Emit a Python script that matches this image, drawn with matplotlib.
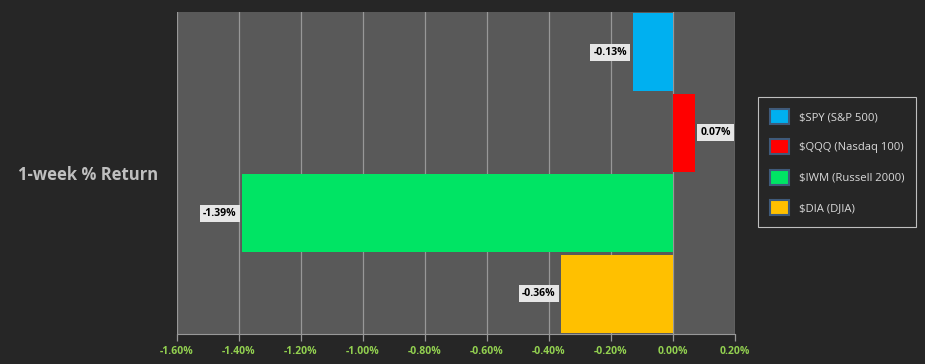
import matplotlib
matplotlib.use("Agg")
import matplotlib.pyplot as plt
from matplotlib.patches import Patch

categories = ["$SPY (S&P 500)", "$QQQ (Nasdaq 100)", "$IWM (Russell 2000)", "$DIA (DJIA)"]
returns = [-0.13, 0.07, -1.39, -0.36]
colors = ["#00B0F0", "#FF0000", "#00E464", "#FFC000"]
xticks = [-1.6, -1.4, -1.2, -1.0, -0.8, -0.6, -0.4, -0.2, 0.0, 0.2]
title = "1-week % Return"

plt.rcParams['font.family'] = ['Open Sans', 'DejaVu Sans']

fig = plt.figure(figsize=(9.25, 3.64), dpi=100, facecolor="#262626")
ax = fig.add_axes([177/925, 1-334/364, (735-177)/925, (334-12)/364])
ax.set_facecolor("#595959")

ypos = list(range(len(categories)))
ax.barh(ypos, returns, height=0.97, color=colors, zorder=3)
ax.set_ylim(3.5, -0.5)
ax.set_xlim(-1.6, 0.2)
ax.set_xticks(xticks)
ax.set_xticklabels([f"{t:.2f}%" for t in xticks], fontsize=7.5, fontweight="bold")
ax.set_yticks([])
ax.grid(axis="x", color="#989898", linewidth=0.9, zorder=0)
for s in ["top", "right", "left"]:
    ax.spines[s].set_visible(False)
ax.spines["bottom"].set_color("#989898")
ax.tick_params(axis="x", colors="#989898", length=5, width=0.9, pad=4, labelcolor="#92D050")

for y, v in zip(ypos, returns):
    off = -4 if v < 0 else 4
    ha = "right" if v < 0 else "left"
    ax.annotate(f"{v:.2f}%", xy=(v, y), xytext=(off, 0), textcoords="offset points",
                ha=ha, va="center", fontsize=7.5, fontweight="bold", color="#000000", zorder=5,
                bbox=dict(boxstyle="square,pad=0.3", facecolor="#E6E6E6", edgecolor="none"))

fig.text(18/925, 1-175/364, title, color="#BFBFBF", fontsize=12, fontweight="bold",
         ha="left", va="center")

handles = [Patch(facecolor=c, edgecolor="#3F5A7A", linewidth=1.5) for c in colors]
leg = fig.legend(handles, categories, loc="upper left", bbox_to_anchor=(758/925, 1-97/364),
                 frameon=True, facecolor="#262626", edgecolor="#BFBFBF", fontsize=8.1,
                 handlelength=1.7, handleheight=1.7, labelspacing=1.35, handletextpad=0.9,
                 borderpad=1.05, borderaxespad=0, fancybox=False, framealpha=1)
for t in leg.get_texts():
    t.set_color("#D9D9D9")
leg.get_frame().set_linewidth(0.8)

fig.savefig("out.png", dpi=100, facecolor=fig.get_facecolor())
